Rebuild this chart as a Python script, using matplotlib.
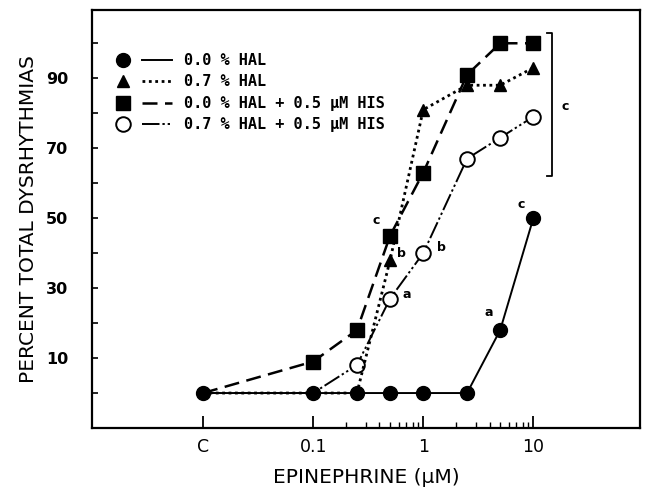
import matplotlib
matplotlib.use("Agg")
import matplotlib.pyplot as plt
import matplotlib.transforms as mtransforms
from matplotlib.lines import Line2D
from matplotlib.legend_handler import HandlerTuple
import numpy as np

# dose of epinephrine (uM); "C" (control) is drawn at 0.01
dose = [0.01, 0.1, 0.25, 0.5, 1, 2.5, 5, 10]
dose_labels = ["C", "0.1", "1", "10"]
dose_ticks = [0.01, 0.1, 1, 10]

# percent total dysrhythmias
hal00 = [0, 0, 0, 0, 0, 0, 18, 50]
hal07 = [0, 0, 0, 38, 81, 88, 88, 93]
hal00_his = [0, 9, 18, 45, 63, 91, 100, 100]
hal07_his = [0, 0, 8, 27, 40, 67, 73, 79]

series_names = ["0.0 % HAL", "0.7 % HAL",
                "0.0 % HAL + 0.5 \u00b5M HIS", "0.7 % HAL + 0.5 \u00b5M HIS"]

# significance letters: (series, index of point, letter, offset in points)
marks = [
    ("hal00_his", 3, "c", (-10, 11)),
    ("hal07", 3, "b", (8, 5)),
    ("hal07_his", 3, "a", (12, 3)),
    ("hal07_his", 4, "b", (13, 4)),
    ("hal00", 6, "a", (-8, 13)),
    ("hal00", 7, "c", (-9, 10)),
]
bracket_span = (62, 103)   # top group bracket, percent

data = {"hal00": hal00, "hal07": hal07, "hal00_his": hal00_his, "hal07_his": hal07_his}

fig = plt.figure(figsize=(6.45, 4.9), dpi=100)
ax = fig.add_axes([0.1426, 0.1265, 0.8496, 0.853])

def shown(y):
    # only draw markers where the curve leaves the baseline
    return [i for i, v in enumerate(y) if v > 0]

dash_dot = (0, (9, 1.5, 1.2, 1.5, 1.2, 1.5))

ax.plot(dose, hal07_his, color="black", lw=1.4, linestyle=dash_dot,
        marker="o", ms=10.5, mfc="white", mec="black", mew=1.4,
        markevery=shown(hal07_his), zorder=3)
ax.plot(dose, hal00_his, color="black", lw=1.8, linestyle=(0, (6, 3)),
        marker="s", ms=10, mfc="black", mec="black",
        markevery=shown(hal00_his), zorder=3)
ax.plot(dose, hal07, color="black", lw=2, linestyle=(0, (1, 1.3)),
        marker="^", ms=8, mfc="black", mec="black",
        markevery=shown(hal07), zorder=3)
ax.plot(dose, hal00, color="black", lw=1.4, linestyle="-",
        marker="o", ms=10, mfc="black", mec="black", zorder=4)

for key, i, letter, off in marks:
    ax.annotate(letter, (dose[i], data[key][i]), xytext=off,
                textcoords="offset points", ha="center", va="center",
                fontsize=9, fontweight="bold", family="DejaVu Sans")

# bracket on the right
trans = mtransforms.blended_transform_factory(ax.transAxes, ax.transData)
bx = 0.839
ax.plot([bx - 0.008, bx, bx, bx - 0.008],
        [bracket_span[1], bracket_span[1], bracket_span[0], bracket_span[0]],
        color="black", lw=1.3, transform=trans, clip_on=False)
ax.text(bx + 0.024, np.mean(bracket_span) - 0.5, "c", transform=trans,
        ha="center", va="center", fontsize=9, fontweight="bold")

ax.set_xscale("log")
ax.set_xlim(0.00098, 93)
ax.set_ylim(-10, 109.5)

ax.set_xticks(dose_ticks)
ax.set_xticklabels(dose_labels)
minor = [m * d for d in (0.1, 1) for m in range(2, 10)]
ax.set_xticks(minor, minor=True)
ax.set_xticklabels([], minor=True)
ax.tick_params(axis="x", which="major", direction="in", length=9, width=1.3,
               labelsize=12.5, pad=7)
ax.tick_params(axis="x", which="minor", direction="in", length=4, width=1)

ax.set_yticks([10, 30, 50, 70, 90])
ax.set_yticks([0, 20, 40, 60, 80, 100], minor=True)
ax.tick_params(axis="y", which="both", direction="in", length=4, width=1.2,
               labelsize=11.5, pad=17)
for lab in ax.get_yticklabels():
    lab.set_fontweight("bold")

for s in ax.spines.values():
    s.set_linewidth(1.6)

ax.set_xlabel("EPINEPHRINE (\u00b5M)", fontsize=14.5, labelpad=9)
ax.set_ylabel("PERCENT TOTAL DYSRHYTHMIAS", fontsize=14.5, labelpad=6)

handles = [
    (Line2D([], [], ls="none", marker="o", ms=10, mfc="black", mec="black"),
     Line2D([], [], color="black", lw=1.4, ls="-")),
    (Line2D([], [], ls="none", marker="^", ms=8, mfc="black", mec="black"),
     Line2D([], [], color="black", lw=2, ls=(0, (1, 1.3)))),
    (Line2D([], [], ls="none", marker="s", ms=10, mfc="black", mec="black"),
     Line2D([], [], color="black", lw=1.8, ls=(0, (6, 3)))),
    (Line2D([], [], ls="none", marker="o", ms=10.5, mfc="white", mec="black", mew=1.4),
     Line2D([], [], color="black", lw=1.4, ls=dash_dot)),
]
ax.legend(handles, series_names, handler_map={tuple: HandlerTuple(ndivide=None, pad=0.2)},
          loc="upper left", bbox_to_anchor=(0.004, 0.93), frameon=False,
          handlelength=4.2, handletextpad=0.8, labelspacing=0.42,
          prop={"family": "DejaVu Sans Mono", "size": 11, "weight": "bold"})

fig.savefig("out.png", dpi=100)
